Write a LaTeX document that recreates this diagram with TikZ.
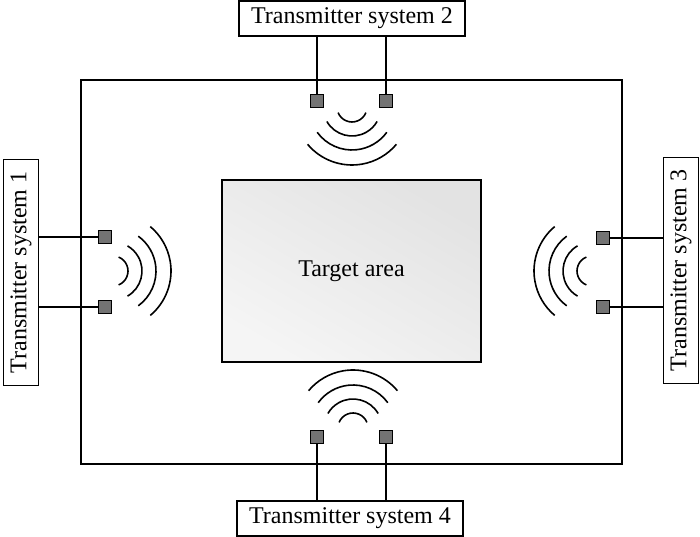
\documentclass[tikz,border=0pt]{standalone}
\usepackage{fontspec}
\setmainfont{Liberation Serif}

\begin{document}
\begin{tikzpicture}[x=1pt,y=1pt,line width=1.6pt]
\tikzstyle{sysbox}=[draw,fill=white,inner sep=0pt,minimum width=226pt,minimum height=35pt,font=\fontsize{24}{28}\selectfont];
\tikzstyle{antenna}=[draw,fill=black!55,minimum size=13pt,inner sep=0pt,line width=1pt];
\tikzstyle{wave}=[line width=1.6pt];
\useasboundingbox (0,0) rectangle (700,537);
\draw (81,73) rectangle (622,457);
\node[draw,minimum width=259pt,minimum height=182pt,top color=black!11,bottom color=black!4,shading angle=-30,font=\fontsize{24}{28}\selectfont] (target) at (351.5,266) {Target area};
% transmitter systems
\node[sysbox,rotate=90] (t1) at (21,264.5) {Transmitter system 1};
\node[sysbox] (t2) at (352,518.5) {Transmitter system 2};
\node[sysbox,rotate=90] (t3) at (681,266.5) {Transmitter system 3};
\node[sysbox] (t4) at (350,18.5) {Transmitter system 4};
% antennas
\node[antenna] (a1t) at (104.5,300) {};
\node[antenna] (a1b) at (104.5,230) {};
\node[antenna] (a2l) at (317,436) {};
\node[antenna] (a2r) at (386,436) {};
\node[antenna] (a3t) at (602.5,299) {};
\node[antenna] (a3b) at (602.5,230) {};
\node[antenna] (a4l) at (317,100) {};
\node[antenna] (a4r) at (386,100) {};
\draw (a1t) -- (a1t -| t1.south);
\draw (a1b) -- (a1b -| t1.south);
\draw (a2l) -- (a2l |- t2.south);
\draw (a2r) -- (a2r |- t2.south);
\draw (a3t) -- (a3t -| t3.north);
\draw (a3b) -- (a3b -| t3.north);
\draw (a4l) -- (a4l |- t4.north);
\draw (a4r) -- (a4r |- t4.north);
% waves
\coordinate (w1) at (113,266);
\coordinate (w2) at (352,430);
\coordinate (w3) at (592,266);
\coordinate (w4) at (353,109);
\foreach \r/\a in {15/68,29/60,43/54,58/50}{
	\draw[wave] (w1) ++(-\a:\r) arc[start angle=-\a,end angle=\a,radius=\r];
	\draw[wave] (w2) ++(270-\a:\r) arc[start angle=270-\a,end angle=270+\a,radius=\r];
	\draw[wave] (w3) ++(180-\a:\r) arc[start angle=180-\a,end angle=180+\a,radius=\r];
	\draw[wave] (w4) ++(90-\a:\r) arc[start angle=90-\a,end angle=90+\a,radius=\r];
}
\end{tikzpicture}
\end{document}
